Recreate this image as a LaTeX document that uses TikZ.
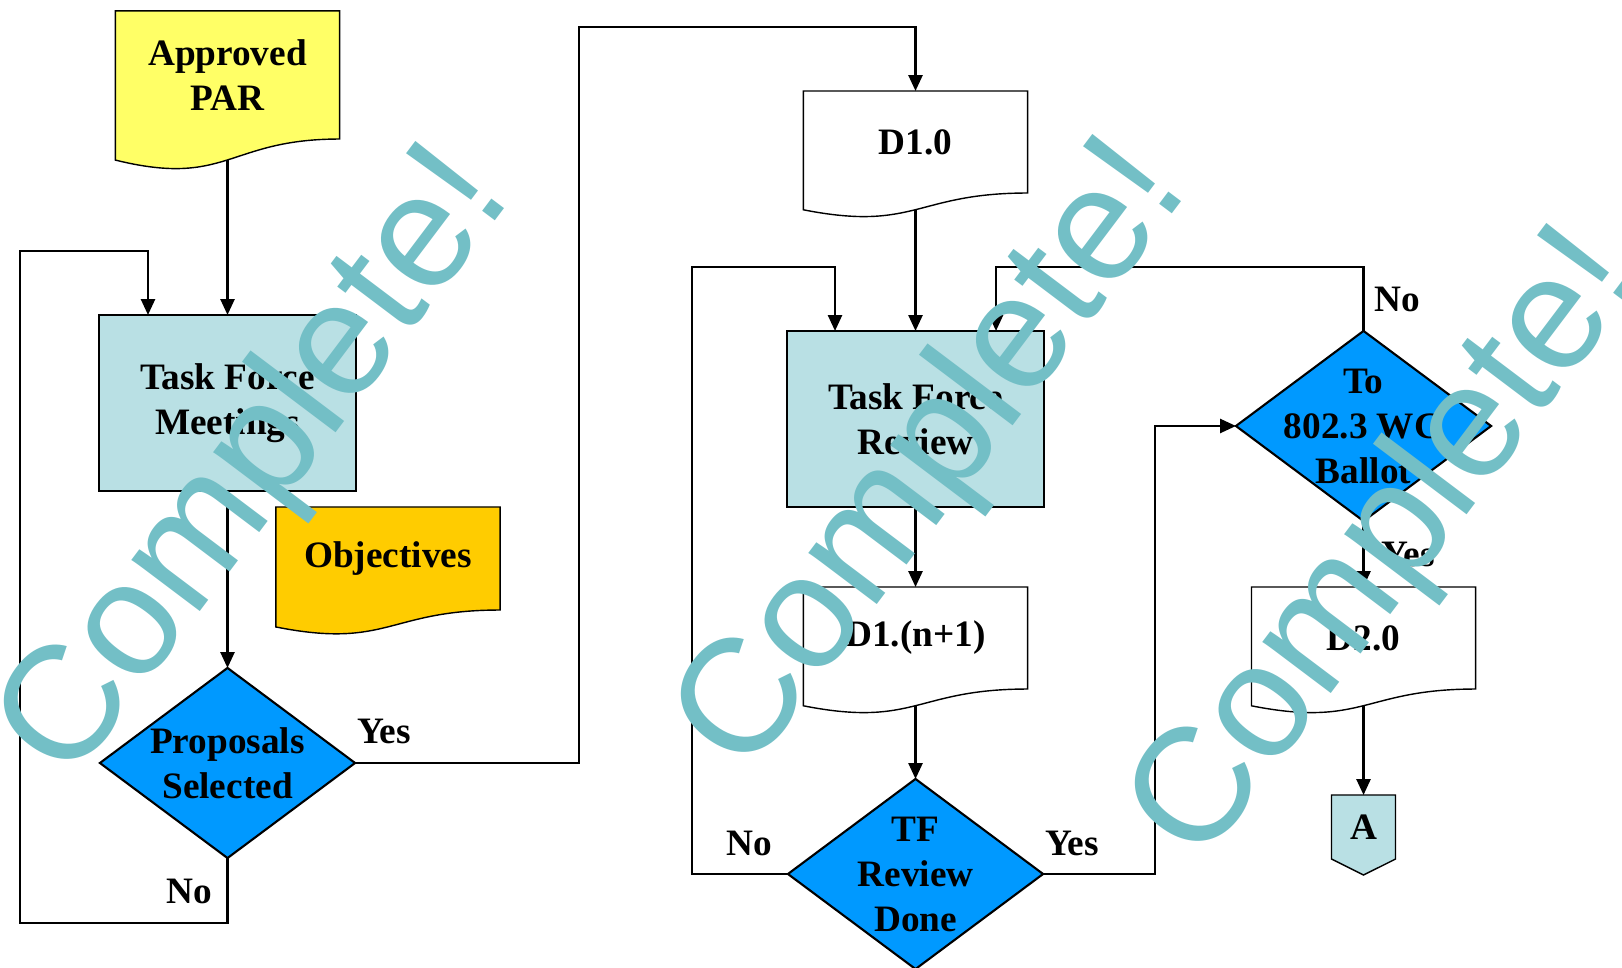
\documentclass[tikz,border=0pt]{standalone}
\usepackage{fontspec}
\setmainfont{Liberation Serif}
\newfontfamily\stampfont{Liberation Sans}
\usetikzlibrary{arrows.meta, shapes.geometric, calc, backgrounds}
\definecolor{parYellow}{HTML}{FFFF66}
\definecolor{objOrange}{HTML}{FFCC00}
\definecolor{tfBlue}{HTML}{B9E0E4}
\definecolor{decBlue}{HTML}{0099FF}
\definecolor{stampTeal}{HTML}{73BFC6}

\begin{document}
\begin{tikzpicture}[x=0.01cm, y=-0.01cm, line width=0.6pt,
    every node/.style={font=\bfseries\fontsize{10.6}{12.8}\selectfont, align=center, inner sep=0pt},
    doc node/.style={rectangle, minimum width=2.24cm, outer sep=0pt},
    proc node/.style={rectangle, draw, fill=tfBlue, minimum width=2.57cm, minimum height=1.76cm, outer sep=0pt},
    dec node/.style={diamond, draw, fill=decBlue, minimum width=2.55cm, minimum height=1.90cm, outer sep=0pt},
    conn node/.style={rectangle, minimum width=0.64cm, minimum height=0.64cm, outer sep=0pt},
    stamp node/.style={font=\stampfont\fontsize{46}{46}\selectfont, text=stampTeal, rotate=53},
    flow/.style={-{Triangle[length=4.5pt, width=4pt]}}]
\useasboundingbox (0,0) rectangle (1622,968);
\clip (0,0) rectangle (1622,968);

\node[doc node, minimum height=1.28cm] (par) at (227.5,75) {Approved\\PAR};
\node[doc node, minimum height=1.03cm] (obj) at (388,558.5) {Objectives};
\node[doc node, minimum height=1.02cm] (d10) at (915.5,142) {D1.0};
\node[doc node, minimum height=1.02cm] (d1n) at (915.5,638) {D1.(n+1)};
\node[doc node, minimum height=1.02cm] (d20) at (1363.5,638) {D2.0};
\node[conn node] (a) at (1363.5,827) {A};

\begin{scope}[on background layer]
\foreach \n/\c/\h in {par/parYellow/128, obj/objOrange/103, d10/white/102, d1n/white/102, d20/white/102}{
    \filldraw[fill=\c] (\n.north west) -- (\n.north east) -- (\n.south east)
        .. controls (\n.south) and ($(\n.south)+(0,0.381*\h)$) .. ($(\n.south west)+(0,0.1646*\h)$) -- cycle;
    \coordinate (\n-b) at ($(\n.south)+(0,0.1635*\h)$);
}
\filldraw[fill=tfBlue] (a.north west) -- (a.north east) -- (a.south east) -- ($(a.south)+(0,16)$) -- (a.south west) -- cycle;
\end{scope}

\node[proc node] (tfm) at (227.5,403) {Task Force\\Meetings};
\node[proc node] (tfr) at (915.5,419) {Task Force\\Review};

\node[dec node] (sel) at (227.5,763) {};
\node (sel-t) at (sel) {Proposals\\Selected};
\node[dec node] (done) at (915.5,874) {};
\node (done-t) at (done) {TF\\Review\\Done};
\node[dec node] (ballot) at (1363.5,426) {};
\node (ballot-t) at (ballot) {To\\802.3 WG\\Ballot};

\coordinate (selNo) at (20,923);
\coordinate (tfmIn) at (148,251);
\coordinate (selYes) at (579,27);
\coordinate (doneNo) at (692,267);
\coordinate (tfrIn) at (835,267);
\coordinate (doneYes) at (1155,426);
\coordinate (ballotNo) at (996,267);

\draw[flow] (par-b) -- (par-b |- tfm.north);
\draw[flow] (tfm.south) -- (sel.north);
\draw[flow] (sel.south) |- (selNo) |- (tfmIn) -- (tfmIn |- tfm.north);
\draw[flow] (sel.east) -| (selYes) -| (d10.north);
\draw[flow] (d10-b) -- (tfr.north);
\draw[flow] (tfr.south) -- (d1n.north);
\draw[flow] (d1n-b) -- (done.north);
\draw[flow] (done.west) -| (doneNo) -- (tfrIn) -- (tfrIn |- tfr.north);
\draw[flow] (done.east) -| (doneYes) -- (ballot.west);
\draw[flow] (ballot.north) |- (ballotNo) -- (ballotNo |- tfr.north);
\draw[flow] (ballot.south) -- (d20.north);
\draw[flow] (d20-b) -- (a.north);

\node (yes1) at (384,731) {Yes};
\node (no1) at (189,891) {No};
\node (no2) at (749,843) {No};
\node (yes2) at (1072,843) {Yes};
\node (no3) at (1397,299) {No};
\node (yes3) at (1408,554) {Yes};

\node[stamp node] (wm1) at (258,466) {Complete!};
\node[stamp node] (wm2) at (935,459) {Complete!};
\node[stamp node] (wm3) at (1389,548) {Complete!};
\end{tikzpicture}
\end{document}
